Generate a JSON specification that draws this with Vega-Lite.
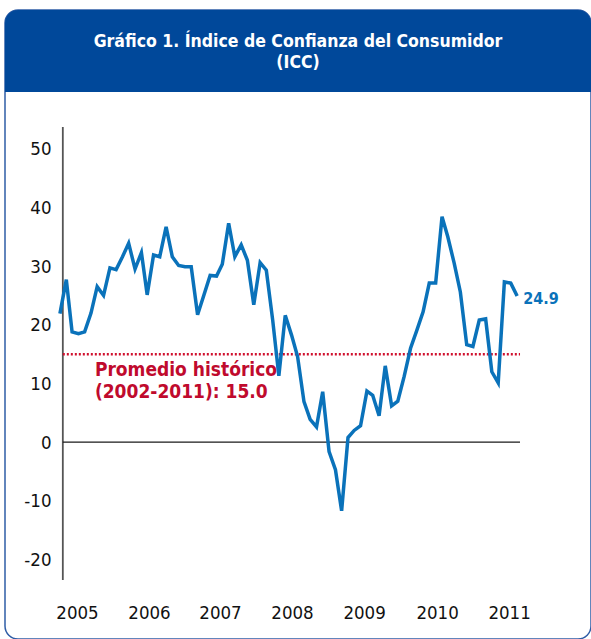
{
  "$schema": "https://vega.github.io/schema/vega-lite/v6.json",
  "width": 586,
  "height": 629,
  "autosize": "none",
  "padding": {"left": 5, "top": 10, "right": 0, "bottom": 0},
  "background": "white",
  "title": {
    "text": ["Gráfico 1. Índice de Confianza del Consumidor", "(ICC)"],
    "anchor": "middle",
    "frame": "group",
    "orient": "top",
    "offset": -36,
    "dy": 39,
    "baseline": "alphabetic",
    "color": "white",
    "font": "'DejaVu Sans Condensed', 'Liberation Sans Narrow', sans-serif",
    "fontSize": 17.5,
    "fontWeight": "bold",
    "lineHeight": 21
  },
  "config": {
    "view": {"fill": "white", "stroke": "#2F5DA6", "strokeWidth": 1.5, "cornerRadius": 13}
  },
  "data": {
    "values": [
      {"fecha": "2005-01", "icc": 21.9}, {"fecha": "2005-02", "icc": 27.7}, {"fecha": "2005-03", "icc": 18.8},
      {"fecha": "2005-04", "icc": 18.5}, {"fecha": "2005-05", "icc": 18.8}, {"fecha": "2005-06", "icc": 22.0},
      {"fecha": "2005-07", "icc": 26.5}, {"fecha": "2005-08", "icc": 25.0}, {"fecha": "2005-09", "icc": 29.7},
      {"fecha": "2005-10", "icc": 29.4}, {"fecha": "2005-11", "icc": 31.6}, {"fecha": "2005-12", "icc": 33.9},
      {"fecha": "2006-01", "icc": 29.5}, {"fecha": "2006-02", "icc": 32.3}, {"fecha": "2006-03", "icc": 25.1},
      {"fecha": "2006-04", "icc": 31.9}, {"fecha": "2006-05", "icc": 31.6}, {"fecha": "2006-06", "icc": 36.7},
      {"fecha": "2006-07", "icc": 31.6}, {"fecha": "2006-08", "icc": 30.1}, {"fecha": "2006-09", "icc": 29.9},
      {"fecha": "2006-10", "icc": 29.9}, {"fecha": "2006-11", "icc": 21.7}, {"fecha": "2006-12", "icc": 25.0},
      {"fecha": "2007-01", "icc": 28.4}, {"fecha": "2007-02", "icc": 28.3}, {"fecha": "2007-03", "icc": 30.3},
      {"fecha": "2007-04", "icc": 37.3}, {"fecha": "2007-05", "icc": 31.6}, {"fecha": "2007-06", "icc": 33.6},
      {"fecha": "2007-07", "icc": 31.0}, {"fecha": "2007-08", "icc": 23.4}, {"fecha": "2007-09", "icc": 30.6},
      {"fecha": "2007-10", "icc": 29.3}, {"fecha": "2007-11", "icc": 20.8}, {"fecha": "2007-12", "icc": 11.3},
      {"fecha": "2008-01", "icc": 21.6}, {"fecha": "2008-02", "icc": 18.2}, {"fecha": "2008-03", "icc": 14.6},
      {"fecha": "2008-04", "icc": 6.9}, {"fecha": "2008-05", "icc": 3.9}, {"fecha": "2008-06", "icc": 2.6},
      {"fecha": "2008-07", "icc": 8.6}, {"fecha": "2008-08", "icc": -1.6}, {"fecha": "2008-09", "icc": -4.7},
      {"fecha": "2008-10", "icc": -11.7}, {"fecha": "2008-11", "icc": 0.8}, {"fecha": "2008-12", "icc": 2.0},
      {"fecha": "2009-01", "icc": 2.8}, {"fecha": "2009-02", "icc": 8.7}, {"fecha": "2009-03", "icc": 8.0},
      {"fecha": "2009-04", "icc": 4.5}, {"fecha": "2009-05", "icc": 13.0}, {"fecha": "2009-06", "icc": 6.2},
      {"fecha": "2009-07", "icc": 7.0}, {"fecha": "2009-08", "icc": 11.2}, {"fecha": "2009-09", "icc": 16.0},
      {"fecha": "2009-10", "icc": 19.0}, {"fecha": "2009-11", "icc": 22.2}, {"fecha": "2009-12", "icc": 27.1},
      {"fecha": "2010-01", "icc": 27.1}, {"fecha": "2010-02", "icc": 38.4}, {"fecha": "2010-03", "icc": 35.0},
      {"fecha": "2010-04", "icc": 30.5}, {"fecha": "2010-05", "icc": 25.6}, {"fecha": "2010-06", "icc": 16.6},
      {"fecha": "2010-07", "icc": 16.3}, {"fecha": "2010-08", "icc": 20.8}, {"fecha": "2010-09", "icc": 21.0},
      {"fecha": "2010-10", "icc": 12.0}, {"fecha": "2010-11", "icc": 10.1}, {"fecha": "2010-12", "icc": 27.3},
      {"fecha": "2011-01", "icc": 27.1}, {"fecha": "2011-02", "icc": 24.9}
    ],
    "format": {"parse": {"fecha": "date"}}
  },
  "layer": [
    {
      "data": {"values": [{}]},
      "mark": {"type": "rect", "color": "#00489A", "cornerRadiusTopLeft": 13, "cornerRadiusTopRight": 13},
      "encoding": {
        "y": {"datum": 73.63, "type": "quantitative"},
        "y2": {"datum": 59.66}
      }
    },
    {
      "data": {"values": [{}]},
      "mark": {"type": "rule", "color": "#555555", "strokeWidth": 1.8},
      "encoding": {
        "x": {"datum": {"year": 2005, "month": 1, "date": 15}, "type": "temporal"},
        "y": {"datum": 53.7, "type": "quantitative"},
        "y2": {"datum": -23.47}
      }
    },
    {
      "data": {"values": [{}]},
      "mark": {"type": "rule", "color": "#1a1a1a", "strokeWidth": 1.3},
      "encoding": {
        "x": {"datum": {"year": 2005, "month": 1, "date": 15}, "type": "temporal"},
        "x2": {"datum": {"year": 2011, "month": 2, "date": 15}},
        "y": {"datum": 0, "type": "quantitative"}
      }
    },
    {
      "data": {"values": [{"promedio": 15.0}]},
      "mark": {"type": "rule", "color": "#D0102E", "strokeWidth": 2.5, "strokeDash": [2, 2]},
      "encoding": {
        "x": {"datum": {"year": 2005, "month": 1, "date": 15}, "type": "temporal"},
        "x2": {"datum": {"year": 2011, "month": 2, "date": 15}},
        "y": {"field": "promedio", "type": "quantitative"}
      }
    },
    {
      "data": {"values": [{}]},
      "mark": {
        "type": "text",
        "text": ["Promedio histórico", "(2002-2011): 15.0"],
        "align": "left",
        "baseline": "alphabetic",
        "font": "'DejaVu Sans Condensed', 'Liberation Sans Narrow', sans-serif",
        "fontSize": 19,
        "fontWeight": "bold",
        "lineHeight": 21.5,
        "color": "#C00A2D"
      },
      "encoding": {
        "x": {"datum": {"year": 2005, "month": 6, "date": 20}, "type": "temporal"},
        "y": {"datum": 11.2, "type": "quantitative"}
      }
    },
    {
      "mark": {"type": "line", "color": "#0A72BA", "strokeWidth": 3.5, "strokeJoin": "miter"},
      "encoding": {
        "x": {
          "field": "fecha",
          "type": "temporal",
          "scale": {"domain": [{"year": 2004, "month": 4, "date": 9}, {"year": 2012, "month": 1, "date": 26}], "nice": false},
          "axis": {
            "title": null,
            "orient": "bottom",
            "offset": -36,
            "domain": false,
            "ticks": false,
            "tickSize": 0,
            "grid": false,
            "labelPadding": 0,
            "labelBaseline": "top",
            "labelFlush": false,
            "labelOverlap": false,
            "labelFont": "'DejaVu Sans Condensed', 'Liberation Sans Narrow', sans-serif",
            "labelFontSize": 18.5,
            "labelColor": "#111111",
            "values": [
              {"year": 2005, "month": 3, "date": 25},
              {"year": 2006, "month": 3, "date": 10},
              {"year": 2007, "month": 2, "date": 18},
              {"year": 2008, "month": 2, "date": 3},
              {"year": 2009, "month": 1, "date": 18},
              {"year": 2010, "month": 1, "date": 8},
              {"year": 2010, "month": 12, "date": 24}
            ],
            "labelExpr": "timeFormat(time(datum.value) + 864000000, '%Y')"
          }
        },
        "y": {
          "field": "icc",
          "type": "quantitative",
          "scale": {"domain": [-33.53, 73.63], "nice": false, "zero": false},
          "axis": {
            "title": null,
            "orient": "left",
            "offset": -58,
            "domain": false,
            "ticks": false,
            "tickSize": 0,
            "grid": false,
            "labelPadding": 12,
            "labelFont": "'DejaVu Sans Condensed', 'Liberation Sans Narrow', sans-serif",
            "labelFontSize": 18.5,
            "labelColor": "#111111",
            "values": [-20, -10, 0, 10, 20, 30, 40, 50],
            "labelExpr": "toString(datum.value)"
          }
        }
      }
    },
    {
      "transform": [{"filter": "utcyear(datum.fecha) == 2011 && utcmonth(datum.fecha) == 1"}],
      "mark": {
        "type": "text",
        "align": "left",
        "baseline": "middle",
        "dx": 6,
        "dy": 3,
        "font": "'DejaVu Sans Condensed', 'Liberation Sans Narrow', sans-serif",
        "fontSize": 16,
        "fontWeight": "bold",
        "color": "#0A72BA"
      },
      "encoding": {
        "x": {"field": "fecha", "type": "temporal"},
        "y": {"field": "icc", "type": "quantitative"},
        "text": {"field": "icc", "type": "quantitative", "format": ".1f"}
      }
    }
  ]
}
